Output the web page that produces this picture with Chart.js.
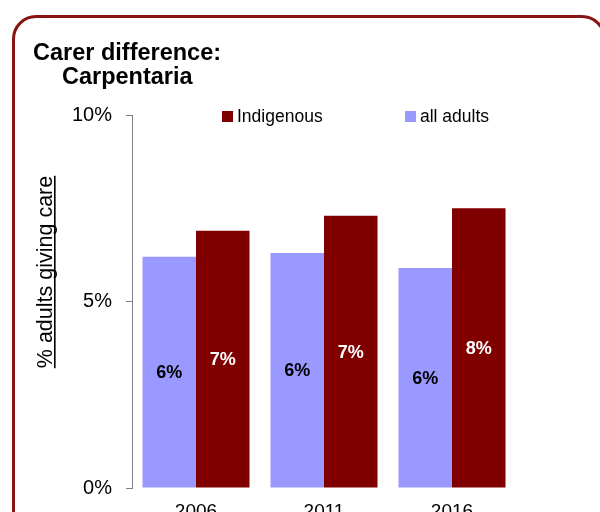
<!DOCTYPE html>
<html>
<head>
<meta charset="utf-8">
<script src="https://cdn.jsdelivr.net/npm/chart.js@4/dist/chart.umd.min.js"></script>
<style>
  html, body { margin: 0; padding: 0; background: #fff; overflow: hidden; }
  #wrap { position: relative; width: 600px; height: 512px; overflow: hidden; }
  #frame {
    position: absolute; left: 12px; top: 15px; width: 594px; height: 540px;
    box-sizing: border-box; border: 3px solid #881414; border-radius: 24px;
  }
  #chart { position: absolute; left: 0; top: 0; }
</style>
</head>
<body>
<div id="wrap">
  <div id="frame"></div>
  <canvas id="chart" width="600" height="512"></canvas>
</div>
<script>
// Carer difference, Carpentaria
const years = ["2006", "2011", "2016"];
const allAdults = [6.2, 6.3, 5.9];
const indigenous = [6.9, 7.3, 7.5];
const yTicks = [0, 5, 10];

const titleLines = ["Carer difference:", "Carpentaria"];
const yTitle = "% adults giving care";

const FONT = "'Liberation Sans', Arial, sans-serif";

// title, y title, legend and value labels drawn by hand
const decorPlugin = {
  id: "decor",
  afterDraw(chart) {
    const ctx = chart.ctx;
    ctx.save();

    // title
    ctx.fillStyle = "#000";
    ctx.font = "bold 23.5px " + FONT;
    ctx.textAlign = "left";
    ctx.textBaseline = "alphabetic";
    ctx.fillText(titleLines[0], 33, 60);
    ctx.fillText(titleLines[1], 62, 84);

    // y axis title, underlined
    ctx.save();
    ctx.translate(46, 272);
    ctx.rotate(-Math.PI / 2);
    ctx.font = "21.5px " + FONT;
    ctx.textAlign = "center";
    ctx.textBaseline = "middle";
    ctx.fillText(yTitle, 0, 0);
    const w = ctx.measureText(yTitle).width;
    ctx.fillStyle = "#000";
    ctx.fillRect(-w / 2, 8, w, 1.6);
    ctx.restore();

    // legend (Indigenous first)
    const ds = chart.data.datasets;
    const legendItems = [
      { d: ds[1], x: 222 },
      { d: ds[0], x: 405 }
    ];
    ctx.font = "17.5px " + FONT;
    ctx.textAlign = "left";
    ctx.textBaseline = "middle";
    legendItems.forEach(it => {
      ctx.fillStyle = it.d.backgroundColor;
      ctx.fillRect(it.x, 111, 11, 11);
      ctx.fillStyle = "#000";
      ctx.fillText(it.d.label, it.x + 15, 117);
    });

    // value labels in the middle of each bar
    ctx.font = "bold 18px " + FONT;
    ctx.textAlign = "center";
    ctx.textBaseline = "middle";
    ds.forEach((d, i) => {
      const meta = chart.getDatasetMeta(i);
      meta.data.forEach((bar, j) => {
        const v = d.data[j];
        ctx.fillStyle = d.labelColor;
        ctx.fillText(Math.round(v) + "%", bar.x, (bar.y + bar.base) / 2 + 1);
      });
    });

    ctx.restore();
  }
};

new Chart(document.getElementById("chart"), {
  type: "bar",
  data: {
    labels: years,
    datasets: [
      { label: "all adults", data: allAdults, backgroundColor: "#9999ff", labelColor: "#000" },
      { label: "Indigenous", data: indigenous, backgroundColor: "#800000", labelColor: "#fff" }
    ]
  },
  options: {
    responsive: false,
    animation: false,
    layout: { padding: { left: 0, right: 84, top: 115, bottom: 0 } },
    datasets: { bar: { categoryPercentage: 0.836, barPercentage: 1 } },
    plugins: {
      legend: { display: false },
      title: { display: false },
      tooltip: { enabled: false }
    },
    scales: {
      x: {
        grid: { display: false },
        border: { display: false },
        ticks: { color: "#000", font: { family: FONT, size: 19 }, padding: 4 },
        afterFit(scale) { scale.height = 24; }
      },
      y: {
        min: 0,
        max: 10,
        afterBuildTicks(scale) { scale.ticks = yTicks.map(v => ({ value: v })); },
        ticks: {
          color: "#000",
          font: { family: FONT, size: 20 },
          padding: 14,
          callback: v => v + "%"
        },
        grid: { drawOnChartArea: false, drawTicks: true, tickLength: 6, color: "#808080" },
        border: { display: true, color: "#808080", width: 1 },
        afterFit(scale) {
          scale.width = 132;
          // keep the bottom tick label from pushing the plot up
          scale.paddingBottom = 0;
        }
      }
    }
  },
  plugins: [decorPlugin]
});
</script>
</body>
</html>
